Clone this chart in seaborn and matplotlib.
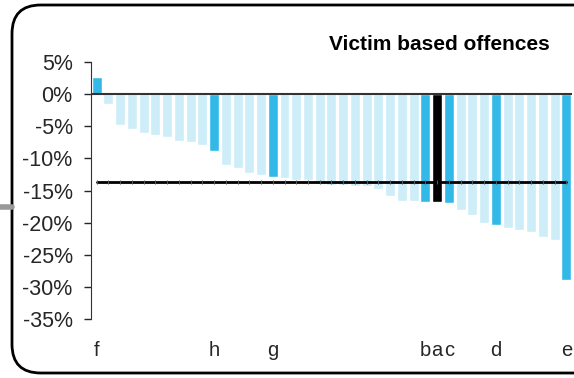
import numpy as np
import pandas as pd
import seaborn as sns
import matplotlib.pyplot as plt
from matplotlib.patches import FancyBboxPatch
from matplotlib.lines import Line2D

# values (percent change)
values = [2.6, -1.6, -4.75, -5.4, -6.0, -6.3, -6.6, -7.25, -7.4, -7.9,
          -8.8, -11.0, -11.5, -12.25, -12.6, -12.9, -13.0, -13.4, -13.4, -13.95,
          -14.1, -14.1, -14.3, -14.3, -14.75, -15.8, -16.6, -16.6, -16.8, -16.8,
          -16.9, -18.0, -18.8, -20.1, -20.4, -20.8, -21.2, -21.5, -22.25, -22.7,
          -29.0]
labels = {0: 'f', 10: 'h', 15: 'g', 28: 'b', 29: 'a', 30: 'c', 34: 'd', 40: 'e'}
highlight = [0, 10, 15, 28, 30, 34, 40]
focus = [29]
average = -13.6

light = '#cdedf9'
dark = '#33b9e8'

sns.set_style('white')
plt.rcParams['font.family'] = ['Liberation Sans', 'DejaVu Sans']

n = len(values)
df = pd.DataFrame({'pos': np.arange(n), 'val': values})
colors = [('black' if i in focus else dark if i in highlight else light) for i in range(n)]

fig = plt.figure(figsize=(5.74, 3.78), dpi=100)
ax = fig.add_axes([0.158, 0.156, 0.839, 0.68])

sns.barplot(data=df, x='pos', y='val', hue='pos', palette=colors, legend=False,
            width=0.85, saturation=1, ax=ax)
ax.axhline(0, color='#333333', lw=1.5, zorder=3)
sns.lineplot(x=df['pos'], y=[average] * n, color='black', lw=2, marker='|',
             markersize=3, markeredgewidth=0.8, markeredgecolor='#555555', ax=ax)
ax.lines[-1].set_zorder(5)

ax.set_ylim(-35, 5)
ax.set_xlim(-0.5, n - 0.5)
ax.set_yticks(np.arange(-35, 6, 5))
ax.set_yticklabels([f'{v}%' for v in range(-35, 6, 5)], fontsize=15.5)
ax.set_xticks(list(labels.keys()))
ax.set_xticklabels(list(labels.values()), fontsize=14.5)
ax.tick_params(axis='x', length=0, pad=16)
ax.tick_params(axis='y', length=5, width=1, direction='out', left=True, pad=8)
ax.set_xlabel('')
ax.set_ylabel('')
for s in ['top', 'right', 'bottom']:
    ax.spines[s].set_visible(False)
ax.spines['left'].set_color('#333333')
ax.text(550 / 574, 1 - 44 / 378, 'Victim based offences', transform=fig.transFigure,
        ha='right', va='center', fontsize=15, fontweight='bold', color='black')

# rounded frame round the chart
frame = FancyBboxPatch((12 / 574, 5 / 378), 600 / 574, 368 / 378,
                       boxstyle='round,pad=0,rounding_size=0.05',
                       transform=fig.transFigure, fill=False, ec='black', lw=2,
                       mutation_aspect=574 / 378)
fig.patches.append(frame)
fig.lines.append(Line2D([0, 12 / 574], [1 - 207 / 378] * 2, transform=fig.transFigure,
                        color='#999999', lw=4))

fig.savefig('out.png', dpi=100)
